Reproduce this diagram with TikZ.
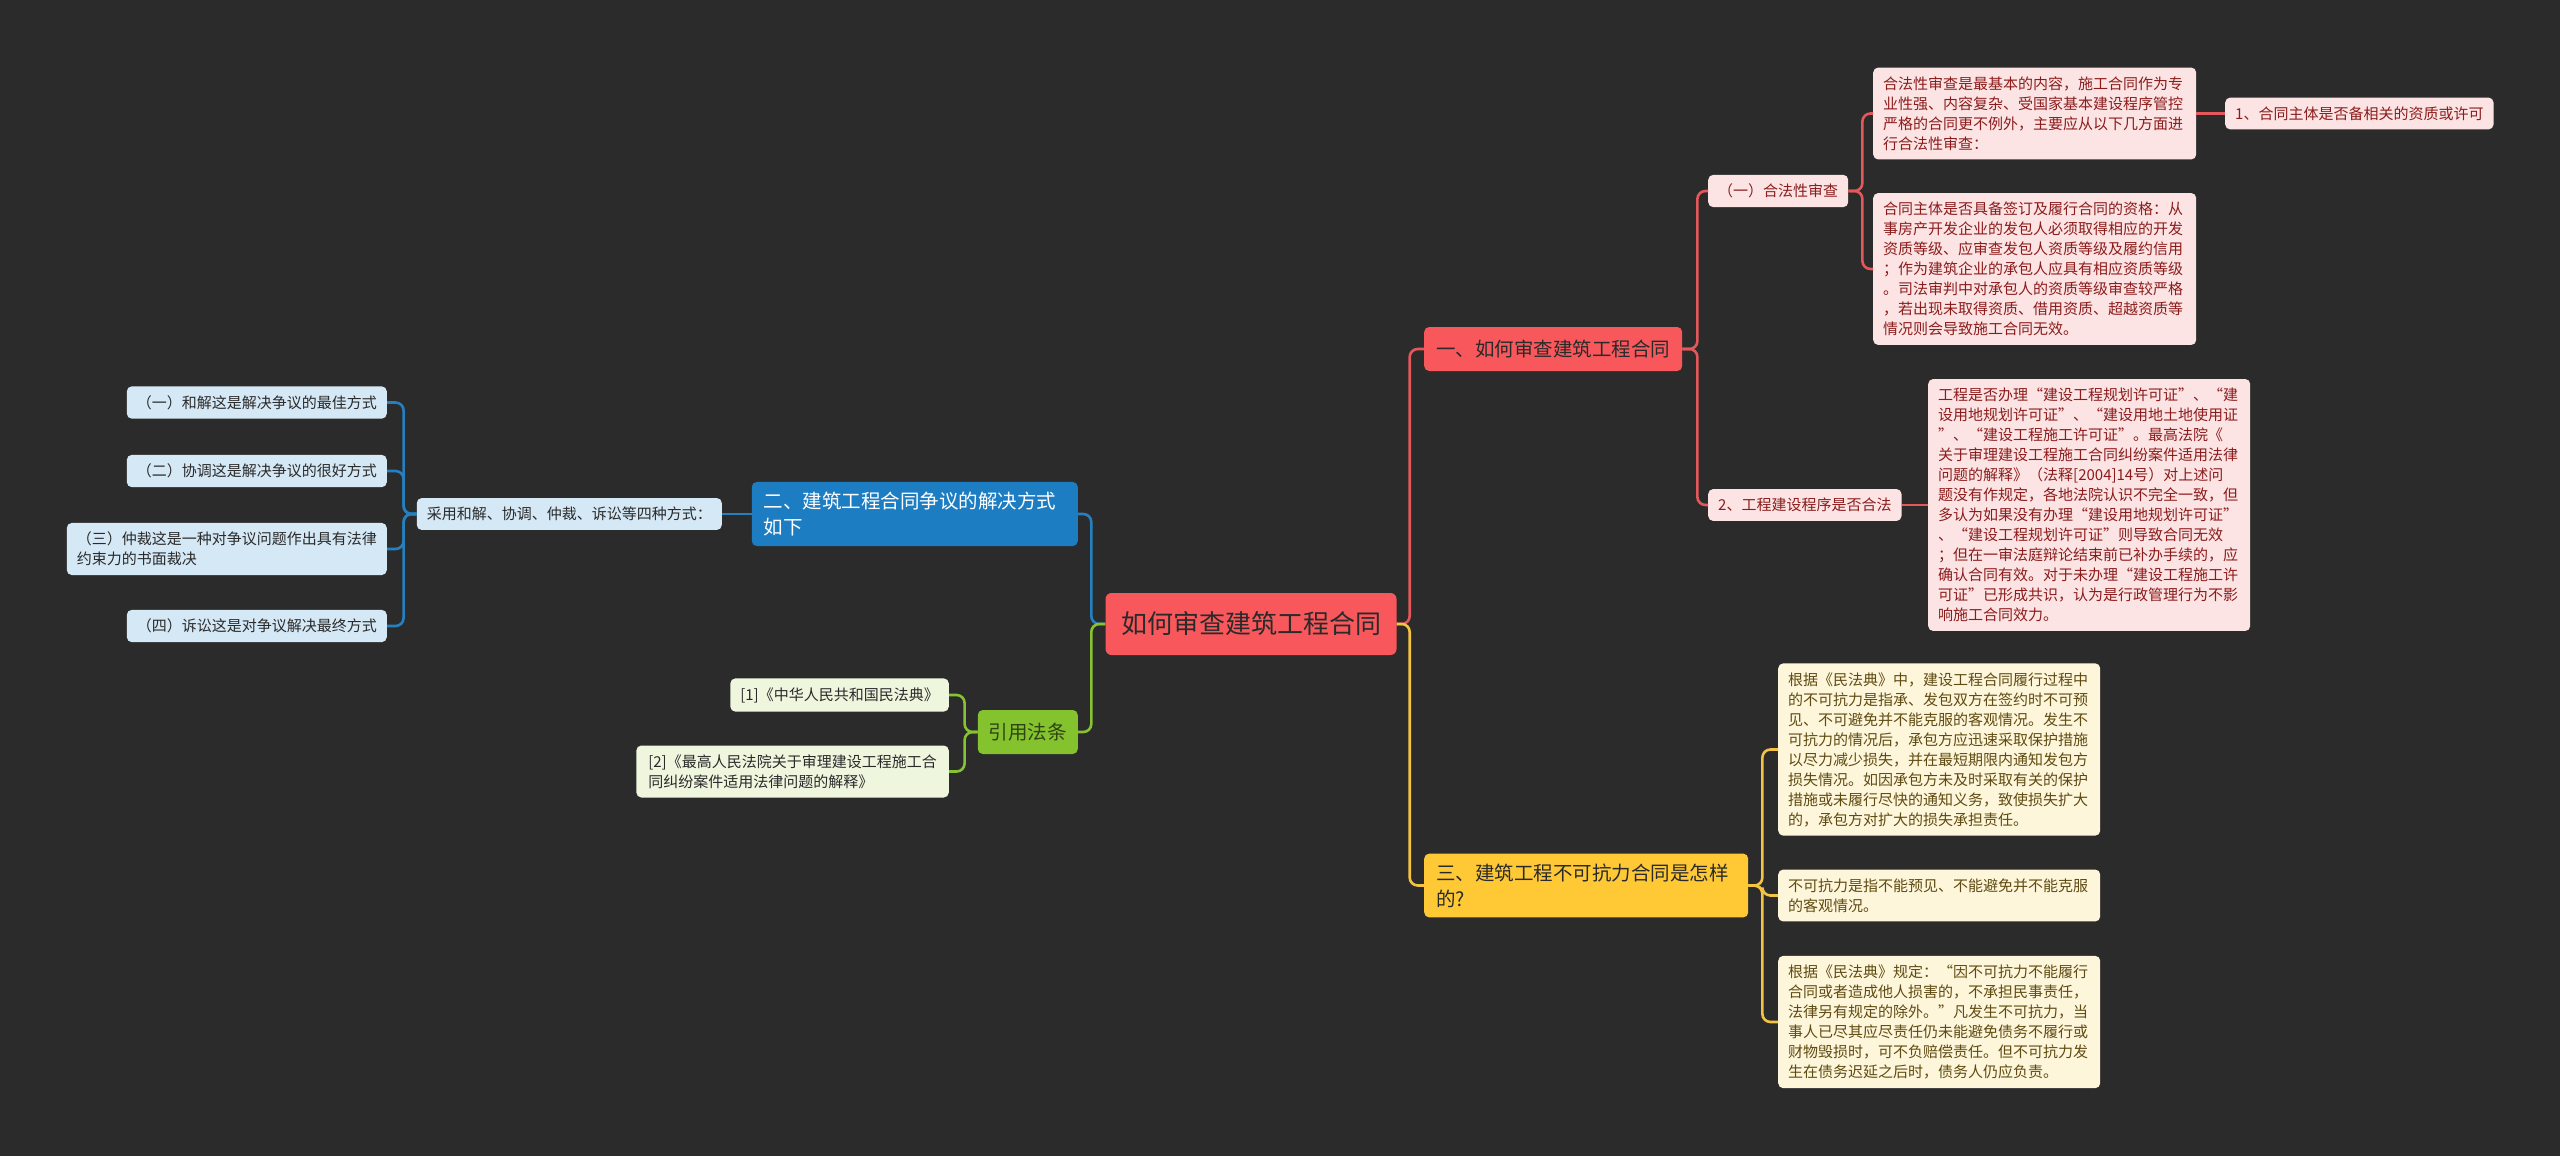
\documentclass[tikz,border=0pt]{standalone}
\usepackage{fontspec}
\setmainfont{Noto Sans CJK SC}
\definecolor{bg}{HTML}{2B2B2B}
\definecolor{rootred}{HTML}{F8585C}
\definecolor{redleaf}{HTML}{FCE4E4}
\definecolor{redtext}{HTML}{8C1C1C}
\definecolor{redln}{HTML}{E4585B}
\definecolor{bluemain}{HTML}{1C7DC3}
\definecolor{blueleaf}{HTML}{D5E8F5}
\definecolor{blueln}{HTML}{2580C0}
\definecolor{greenmain}{HTML}{84C22E}
\definecolor{greentext}{HTML}{2E4512}
\definecolor{greenleaf}{HTML}{EEF6DE}
\definecolor{greenln}{HTML}{86C232}
\definecolor{yelmain}{HTML}{FFC936}
\definecolor{yelleaf}{HTML}{FEF6DA}
\definecolor{yeltext}{HTML}{5F4B12}
\definecolor{yelln}{HTML}{F5C343}
\definecolor{darktext}{HTML}{2A2A2A}
\begin{document}
\begin{tikzpicture}[x=1pt,y=-1pt,
  base/.style={rounded corners=5pt, inner xsep=10pt, inner ysep=9pt,
    font=\fontsize{15}{20}\selectfont, align=left},
  rleaf/.style={base, fill=redleaf, text=redtext},
  bleaf/.style={base, fill=blueleaf, text=darktext},
  gleaf/.style={base, fill=greenleaf, text=darktext},
  yleaf/.style={base, fill=yelleaf, text=yeltext},
  lone/.style={rounded corners=5pt, inner xsep=12pt, inner ysep=10pt,
    font=\fontsize{19.5}{26}\selectfont, align=left, minimum height=44pt},
  rootst/.style={rounded corners=6pt, fill=rootred, text=darktext,
    font=\fontsize{26}{30}\selectfont, minimum width=291pt, minimum height=62pt},
  conn/.style={line width=2.6pt, rounded corners=8pt},
  redline/.style={conn, draw=redln},
  blueline/.style={conn, draw=blueln},
  greenline/.style={conn, draw=greenln},
  yelline/.style={conn, draw=yelln}
]
\fill[bg] (0,0) rectangle (2560,1156);
\useasboundingbox (0,0) rectangle (2560,1156);

% root
\node[rootst] (root) at (1251,624) {如何审查建筑工程合同};

% level one
\node[lone, fill=rootred, text=darktext, anchor=west] (r1) at (1424,349) {一、如何审查建筑工程合同};
\node[lone, fill=bluemain, text=white, anchor=east, text width=302pt] (b1) at (1078,514) {二、建筑工程合同争议的解决方式\\如下};
\node[lone, fill=greenmain, text=greentext, anchor=east, inner xsep=11pt] (g0) at (1078,732) {引用法条};
\node[lone, fill=yelmain, text=darktext, anchor=west, text width=300pt] (y0) at (1424,885.5) {三、建筑工程不可抗力合同是怎样\\的?};

% red branch
\node[rleaf, anchor=west] (r11) at (1708,191) {（一）合法性审查};
\node[rleaf, anchor=west] (r12) at (1708,505) {2、工程建设程序是否合法};
\node[rleaf, anchor=west, text width=303pt] (r111) at (1873,113.5) {合法性审查是最基本的内容，施工合同作为专\\业性强、内容复杂、受国家基本建设程序管控\\严格的合同更不例外，主要应从以下几方面进\\行合法性审查：};
\node[rleaf, anchor=west, text width=303pt] (r112) at (1873,269) {合同主体是否具备签订及履行合同的资格：从\\事房产开发企业的发包人必须取得相应的开发\\资质等级、应审查发包人资质等级及履约信用\\；作为建筑企业的承包人应具有相应资质等级\\。司法审判中对承包人的资质等级审查较严格\\，若出现未取得资质、借用资质、超越资质等\\情况则会导致施工合同无效。};
\node[rleaf, anchor=west] (r1111) at (2225,113.5) {1、合同主体是否备相关的资质或许可};
\node[rleaf, anchor=west, text width=302pt] (r121) at (1928,505) {工程是否办理“建设工程规划许可证”、“建\\设用地规划许可证”、“建设用地土地使用证\\”、“建设工程施工许可证”。最高法院《\\关于审理建设工程施工合同纠纷案件适用法律\\问题的解释》（法释[2004]14号）对上述问\\题没有作规定，各地法院认识不完全一致，但\\多认为如果没有办理“建设用地规划许可证”\\、“建设工程规划许可证”则导致合同无效\\；但在一审法庭辩论结束前已补办手续的，应\\确认合同有效。对于未办理“建设工程施工许\\可证”已形成共识，认为是行政管理行为不影\\响施工合同效力。};

% yellow branch
\node[yleaf, anchor=west, text width=302pt] (y1) at (1778,749.5) {根据《民法典》中，建设工程合同履行过程中\\的不可抗力是指承、发包双方在签约时不可预\\见、不可避免并不能克服的客观情况。发生不\\可抗力的情况后，承包方应迅速采取保护措施\\以尽力减少损失，并在最短期限内通知发包方\\损失情况。如因承包方未及时采取有关的保护\\措施或未履行尽快的通知义务，致使损失扩大\\的，承包方对扩大的损失承担责任。};
\node[yleaf, anchor=west, text width=302pt] (y2) at (1778,895.5) {不可抗力是指不能预见、不能避免并不能克服\\的客观情况。};
\node[yleaf, anchor=west, text width=302pt] (y3) at (1778,1022) {根据《民法典》规定：“因不可抗力不能履行\\合同或者造成他人损害的，不承担民事责任，\\法律另有规定的除外。”凡发生不可抗力，当\\事人已尽其应尽责任仍未能避免债务不履行或\\财物毁损时，可不负赔偿责任。但不可抗力发\\生在债务迟延之后时，债务人仍应负责。};

% blue branch
\node[bleaf, anchor=east] (b11) at (722,514) {采用和解、协调、仲裁、诉讼等四种方式：};
\node[bleaf, anchor=east] (b111) at (387,402.5) {（一）和解这是解决争议的最佳方式};
\node[bleaf, anchor=east] (b112) at (387,471) {（二）协调这是解决争议的很好方式};
\node[bleaf, anchor=east] (b113) at (387,549) {（三）仲裁这是一种对争议问题作出具有法律\\约束力的书面裁决};
\node[bleaf, anchor=east] (b114) at (387,626) {（四）诉讼这是对争议解决最终方式};

% green branch
\node[gleaf, anchor=east] (g1) at (949,695) {[1]《中华人民共和国民法典》};
\node[gleaf, anchor=east, inner xsep=12pt] (g2) at (949,771.5) {[2]《最高人民法院关于审理建设工程施工合\\同纠纷案件适用法律问题的解释》};

% connectors
\draw[redline] (root.east) -- ++(13,0) |- (r1.west);
\draw[yelline] (root.east) -- ++(13,0) |- (y0.west);
\draw[blueline] (root.west) -- ++(-14,0) |- (b1.east);
\draw[greenline] (root.west) -- ++(-14,0) |- (g0.east);

\draw[redline] (r1.east) -- ++(15,0) |- (r11.west);
\draw[redline] (r1.east) -- ++(15,0) |- (r12.west);
\draw[redline] (r11.east) -- ++(14,0) |- (r111.west);
\draw[redline] (r11.east) -- ++(14,0) |- (r112.west);
\draw[redline] (r111.east) -- (r1111.west);
\draw[redline] (r12.east) -- (r121.west);

\draw[yelline] (y0.east) -- ++(14,0) |- (y1.west);
\draw[yelline] (y0.east) -- ++(14,0) |- (y2.west);
\draw[yelline] (y0.east) -- ++(14,0) |- (y3.west);

\draw[blueline] (b1.west) -- (b11.east);
\draw[blueline] (b11.west) -- ++(-13,0) |- (b111.east);
\draw[blueline] (b11.west) -- ++(-13,0) |- (b112.east);
\draw[blueline] (b11.west) -- ++(-13,0) |- (b113.east);
\draw[blueline] (b11.west) -- ++(-13,0) |- (b114.east);

\draw[greenline] (g0.west) -- ++(-13,0) |- (g1.east);
\draw[greenline] (g0.west) -- ++(-13,0) |- (g2.east);
\end{tikzpicture}
\end{document}
